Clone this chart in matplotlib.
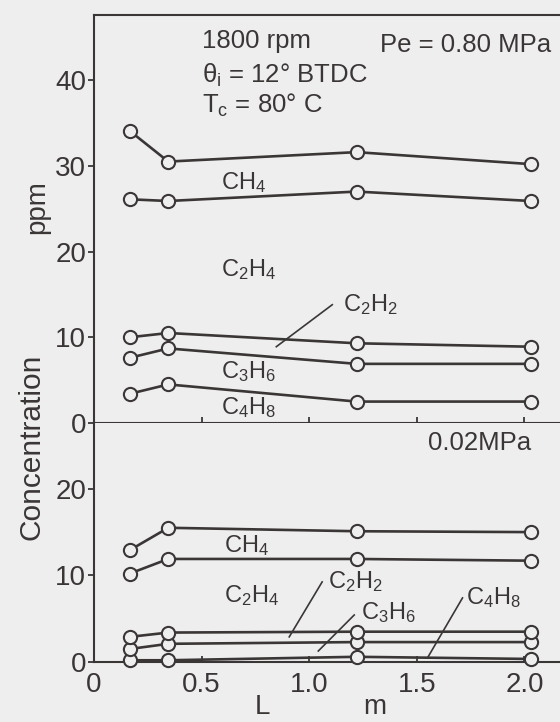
import numpy as np
import matplotlib.pyplot as plt
import matplotlib as mpl

mpl.rcParams["font.family"] = ["Liberation Sans", "DejaVu Sans"]
mpl.rcParams["mathtext.fontset"] = "custom"
mpl.rcParams["mathtext.rm"] = "Liberation Sans"
mpl.rcParams["mathtext.default"] = "regular"

bg = "#eeeeef"
ink = "#3b3636"

# distance L [m]
L = [0.165, 0.345, 1.22, 2.03]

# Pe = 0.80 MPa
ch4_hi = [34.1, 30.5, 31.6, 30.2]
c2h4_hi = [26.1, 25.9, 27.0, 25.9]
c2h2_hi = [10.0, 10.5, 9.3, 8.9]
c3h6_hi = [7.6, 8.7, 6.9, 6.9]
c4h8_hi = [3.4, 4.5, 2.5, 2.5]

# Pe = 0.02 MPa
ch4_lo = [12.9, 15.5, 15.1, 15.0]
c2h4_lo = [10.2, 11.9, 11.9, 11.7]
c2h2_lo = [2.9, 3.4, 3.5, 3.5]
c3h6_lo = [1.5, 2.1, 2.3, 2.3]
c4h8_lo = [0.2, 0.2, 0.6, 0.35]

W, H = 560, 722
fig = plt.figure(figsize=(W / 100, H / 100), dpi=100)
fig.patch.set_facecolor(bg)

x0 = 94
ax1 = fig.add_axes([x0 / W, 1 - 423 / H, 1 - x0 / W, (423 - 15) / H])
ax2 = fig.add_axes([x0 / W, 1 - 662 / H, 1 - x0 / W, (662 - 423) / H])

def series(ax, y):
    ax.plot(L, y, color=ink, lw=1.9, marker="o", ms=9.5, mfc=bg, mec=ink,
            mew=1.5, clip_on=False, zorder=3)

for y in [ch4_hi, c2h4_hi, c2h2_hi, c3h6_hi, c4h8_hi]:
    series(ax1, y)
for y in [c4h8_lo, c3h6_lo, c2h2_lo, c2h4_lo, ch4_lo]:
    series(ax2, y)

for ax in (ax1, ax2):
    ax.set_facecolor(bg)
    ax.set_xlim(0, 2.165)
    ax.spines["right"].set_visible(False)
    for s in ax.spines.values():
        s.set_color(ink)
        s.set_linewidth(1.5)
    ax.tick_params(axis="y", direction="out", length=4.5, width=1.3, pad=1,
                   labelsize=20, colors=ink)
    ax.tick_params(axis="x", direction="in", length=4, width=1.3, pad=7,
                   labelsize=20, colors=ink)
ax2.spines["top"].set_visible(False)

ax1.set_ylim(0, 47.6)
ax1.set_yticks([0, 10, 20, 30, 40])
ax1.set_xticks([0.5, 1.0, 1.5, 2.0])
ax1.set_xticklabels([])

ax2.set_ylim(0, 27.6)
ax2.set_yticks([0, 10, 20])
ax2.set_xticks([0, 0.5, 1.0, 1.5, 2.0])
ax2.set_xticklabels(["0", "0.5", "1.0", "1.5", "2.0"])

fs = 17
hs = 18.5
# upper panel labels
ax1.text(0.50, 44.6, "1800 rpm", fontsize=hs, color=ink, va="center")
ax1.text(0.50, 40.6, r"$\theta_i$ = 12° BTDC", fontsize=hs, color=ink, va="center")
ax1.text(0.50, 37.1, r"$T_c$ = 80° C", fontsize=hs, color=ink, va="center")
ax1.text(1.33, 44.1, "Pe = 0.80 MPa", fontsize=hs, color=ink, va="center")
ax1.text(0.59, 28.1, r"$CH_4$", fontsize=fs, color=ink, va="center")
ax1.text(0.59, 17.9, r"$C_2H_4$", fontsize=fs, color=ink, va="center")
ax1.text(1.155, 13.8, r"$C_2H_2$", fontsize=fs, color=ink, va="center")
ax1.plot([1.107, 0.847], [13.8, 8.9], color=ink, lw=1.2)
ax1.text(0.59, 6.0, r"$C_3H_6$", fontsize=fs, color=ink, va="center")
ax1.text(0.59, 1.8, r"$C_4H_8$", fontsize=fs, color=ink, va="center")

# lower panel labels
ax2.text(1.55, 25.3, "0.02MPa", fontsize=hs, color=ink, va="center")
ax2.text(0.605, 13.5, r"$CH_4$", fontsize=fs, color=ink, va="center")
ax2.text(0.605, 7.7, r"$C_2H_4$", fontsize=fs, color=ink, va="center")
ax2.text(1.088, 9.25, r"$C_2H_2$", fontsize=fs, color=ink, va="center")
ax2.plot([1.06, 0.907], [9.25, 2.9], color=ink, lw=1.2)
ax2.text(1.242, 5.66, r"$C_3H_6$", fontsize=fs, color=ink, va="center")
ax2.plot([1.209, 1.042], [5.43, 1.27], color=ink, lw=1.2)
ax2.text(1.73, 7.5, r"$C_4H_8$", fontsize=fs, color=ink, va="center")
ax2.plot([1.712, 1.549], [7.4, 0.46], color=ink, lw=1.2)

# axis titles
fig.text(37 / W, 1 - 207 / H, "ppm", rotation=90, fontsize=20, color=ink,
         ha="center", va="center")
fig.text(32 / W, 1 - 447 / H, "Concentration", rotation=90, fontsize=21.5,
         color=ink, ha="center", va="center")
fig.text(262 / W, 1 - 707 / H, "L", fontsize=20, color=ink, ha="center", va="center")
fig.text(375 / W, 1 - 707 / H, "m", fontsize=20, color=ink, ha="center", va="center")

fig.savefig("out.png", dpi=100, facecolor=bg)
